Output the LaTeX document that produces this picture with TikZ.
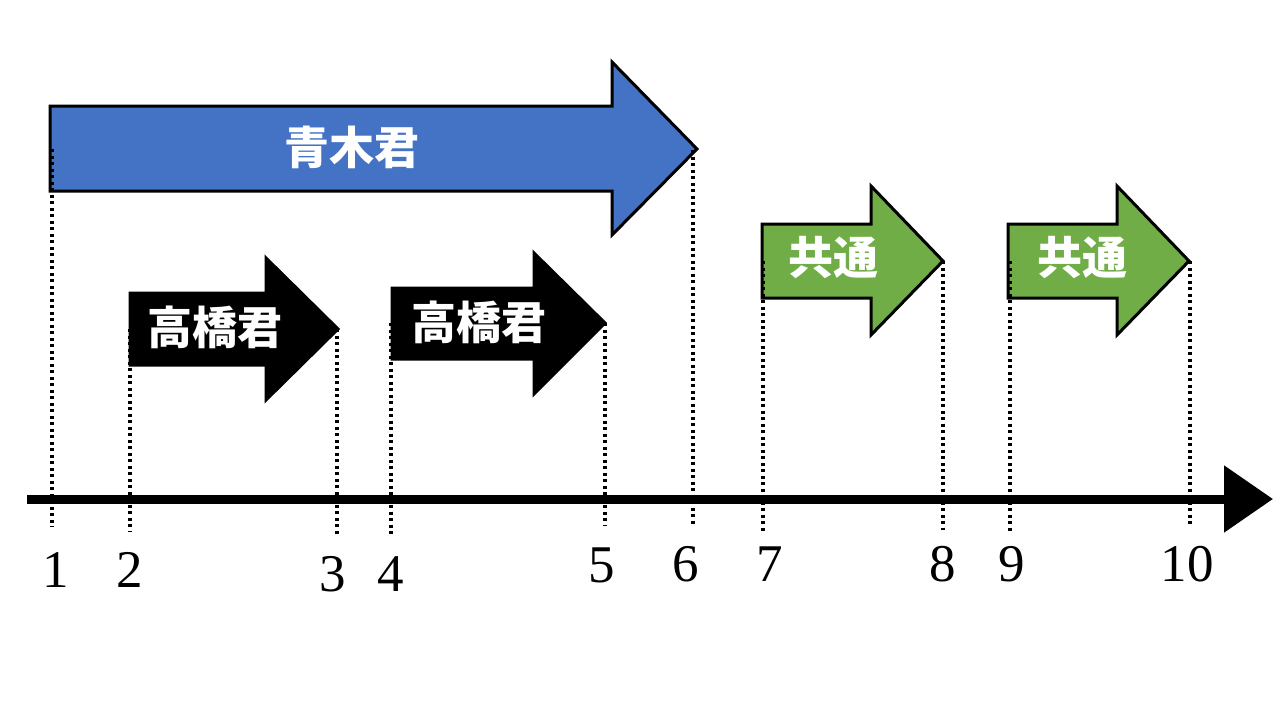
\documentclass[tikz,border=0pt]{standalone}
\usepackage{fontspec}
\newfontfamily\jpfont{Noto Sans CJK JP}
\newfontfamily\numfont{Liberation Serif}
\usepackage{tikz}
\usetikzlibrary{arrows.meta}
\definecolor{aokiblue}{HTML}{4472C4}
\definecolor{kyotsugreen}{HTML}{70AD47}
\tikzset{
span/.style={line width=3pt, line join=miter, draw=black},
spantext/.style={text=white, font=\jpfont\bfseries\fontsize{45}{50}\selectfont, inner sep=0pt},
tickline/.style={line width=3.5pt, dash pattern=on 3pt off 3.5pt},
ticklabel/.style={font=\numfont\fontsize{53}{60}\selectfont, inner sep=0pt},
axis/.style={line width=9pt, -{Triangle[length=49pt,width=65pt]}}}

\begin{document}
\begin{tikzpicture}[x=1pt,y=-1pt]
    \useasboundingbox (0,0) rectangle (1280,720);

                % arrows for each person
                \draw[span, fill=aokiblue] (50,106) -- (612,106) -- (612,62) -- (697,149) -- (612,235) -- (612,191) -- (50,191) -- cycle;
                \draw[span, fill=black] (130,293) -- (266,293) -- (266,258) -- (338,329) -- (266,400) -- (266,365) -- (130,365) -- cycle;
                \draw[span, fill=black] (392,288) -- (534,288) -- (534,253) -- (605,323) -- (534,394) -- (534,359) -- (392,359) -- cycle;
                \draw[span, fill=kyotsugreen] (762,224) -- (871,224) -- (871,186) -- (943,261) -- (871,335) -- (871,298) -- (762,298) -- cycle;
                \draw[span, fill=kyotsugreen] (1008,224) -- (1117,224) -- (1117,186) -- (1189,261) -- (1117,335) -- (1117,298) -- (1008,298) -- cycle;

                \node[spantext] (aoki) at (352,147) {青木君};
                \node[spantext] (takahashiA) at (215,327) {高橋君};
                \node[spantext] (takahashiB) at (479,322) {高橋君};
                \node[spantext] (kyotsuA) at (833,258) {共通};
                \node[spantext] (kyotsuB) at (1082,258) {共通};

                % time axis
                \coordinate (O) at (27,499);
                \coordinate (E) at (1273,499);
                \draw[axis] (O) -- (E);

                \coordinate (t1) at (52,149);
                \coordinate (t2) at (130,329);
                \coordinate (t3) at (337,329);
                \coordinate (t4) at (391,323);
                \coordinate (t5) at (605,323);
                \coordinate (t6) at (693,150);
                \coordinate (t7) at (763,261);
                \coordinate (t8) at (943,261);
                \coordinate (t9) at (1010,261);
                \coordinate (t10) at (1190,261);

                \coordinate (b1) at (52,527);
                \coordinate (b2) at (130,531);
                \coordinate (b3) at (337,534);
                \coordinate (b4) at (391,534);
                \coordinate (b5) at (605,526);
                \coordinate (b6) at (693,526);
                \coordinate (b7) at (763,531);
                \coordinate (b8) at (943,530);
                \coordinate (b9) at (1010,533);
                \coordinate (b10) at (1190,527);

                \foreach \i in {1,...,10}
                    \draw[tickline] (t\i) -- (b\i);

                \node[ticklabel] (n1) at (56,570) {1};
                \node[ticklabel] (n2) at (130,570) {2};
                \node[ticklabel] (n3) at (333,574) {3};
                \node[ticklabel] (n4) at (391,574) {4};
                \node[ticklabel] (n5) at (602,565) {5};
                \node[ticklabel] (n6) at (686,564) {6};
                \node[ticklabel] (n7) at (770,564) {7};
                \node[ticklabel] (n8) at (943,564) {8};
                \node[ticklabel] (n9) at (1012,564) {9};
                \node[ticklabel] (n10) at (1187,564) {10};

            \end{tikzpicture}
\end{document}
